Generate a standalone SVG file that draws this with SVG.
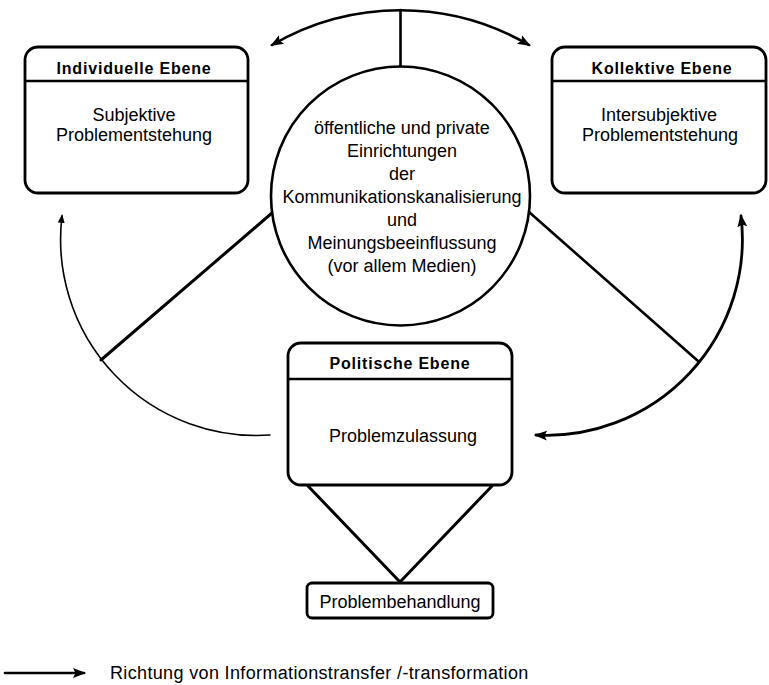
<svg xmlns="http://www.w3.org/2000/svg" width="769" height="685" viewBox="0 0 769 685">
<style>
  text { font-family: "Liberation Sans", Arial, Helvetica, sans-serif; fill: #000; text-anchor: middle; }
  .t { font-size: 16px; font-weight: bold; letter-spacing: 0.8px; }
  .b { font-size: 18px; }
  .box { fill: #fff; stroke: #000; stroke-width: 2.8; }
  .sep { stroke: #000; stroke-width: 2.5; }
  .ln { fill: none; stroke: #000; stroke-linecap: round; }
</style>
<defs>
  <marker id="ah" markerUnits="userSpaceOnUse" markerWidth="14" markerHeight="12" refX="11" refY="5" orient="auto-start-reverse">
    <path d="M0,0 L13,5 L0,10 L2.5,5 z" fill="#000"/>
  </marker>
  <marker id="ahs" markerUnits="userSpaceOnUse" markerWidth="10" markerHeight="10" refX="7" refY="3.5" orient="auto">
    <path d="M0,0 L9,3.5 L0,7 z" fill="#000"/>
  </marker>
</defs>
<rect width="769" height="685" fill="#fff"/>

<g id="connectors">
  <!-- top double arrow -->
  <path class="ln" d="M272,45 A255,255 0 0 1 529,45" stroke-width="2.6" marker-start="url(#ah)" marker-end="url(#ah)"/>
  <line class="ln" x1="400.5" y1="10" x2="400.5" y2="67" stroke-width="2.6"/>
  <!-- spokes from circle -->
  <line class="ln" x1="272" y1="213" x2="101" y2="360" stroke-width="3"/>
  <line class="ln" x1="529" y1="212" x2="698" y2="361" stroke-width="2.6"/>
  <!-- left curve -->
  <path class="ln" d="M270,435 A196,196 0 0 1 62,216" stroke-width="1.6" marker-end="url(#ahs)"/>
  <!-- right curve -->
  <path class="ln" d="M536,435 A196,196 0 0 0 741,216" stroke-width="2.8" marker-start="url(#ah)" marker-end="url(#ah)"/>
  <!-- triangle to Problembehandlung -->
  <line class="ln" x1="308" y1="486" x2="400" y2="582" stroke-width="3"/>
  <line class="ln" x1="492" y1="486" x2="400" y2="582" stroke-width="3"/>
</g>

<g id="individuelle">
  <rect class="box" x="25" y="47" width="223" height="146" rx="13"/>
  <line class="sep" x1="25" y1="81" x2="248" y2="81"/>
  <text class="t" x="134" y="74">Individuelle Ebene</text>
  <text class="b" x="134" y="121">Subjektive</text>
  <text class="b" x="134" y="141">Problementstehung</text>
</g>

<g id="kollektive">
  <rect class="box" x="552" y="47" width="214" height="146" rx="13"/>
  <line class="sep" x1="552" y1="81" x2="766" y2="81"/>
  <text class="t" x="662" y="74">Kollektive Ebene</text>
  <text class="b" x="659" y="121">Intersubjektive</text>
  <text class="b" x="660" y="141">Problementstehung</text>
</g>

<g id="medien">
  <circle cx="400.5" cy="196" r="129.5" fill="#fff" stroke="#000" stroke-width="2.6"/>
  <text class="b" x="402" y="134">öffentliche und private</text>
  <text class="b" x="402" y="157">Einrichtungen</text>
  <text class="b" x="402" y="180">der</text>
  <text class="b" x="402" y="203">Kommunikationskanalisierung</text>
  <text class="b" x="402" y="226">und</text>
  <text class="b" x="402" y="249">Meinungsbeeinflussung</text>
  <text class="b" x="402" y="272">(vor allem Medien)</text>
</g>

<g id="politische">
  <rect class="box" x="288" y="343" width="224" height="142" rx="13"/>
  <line class="sep" x1="288" y1="379" x2="512" y2="379"/>
  <text class="t" x="400" y="369">Politische Ebene</text>
  <text class="b" x="403" y="442">Problemzulassung</text>
</g>

<g id="problembehandlung">
  <rect class="box" x="307" y="583" width="186" height="35" rx="5"/>
  <text class="b" x="400" y="608">Problembehandlung</text>
</g>

<g id="legend">
  <line class="ln" x1="5" y1="673" x2="84" y2="673" stroke-width="2.6" marker-end="url(#ah)"/>
  <text class="b" x="110" y="679" style="text-anchor:start; letter-spacing:0.35px">Richtung von Informationstransfer /-transformation</text>
</g>
</svg>
